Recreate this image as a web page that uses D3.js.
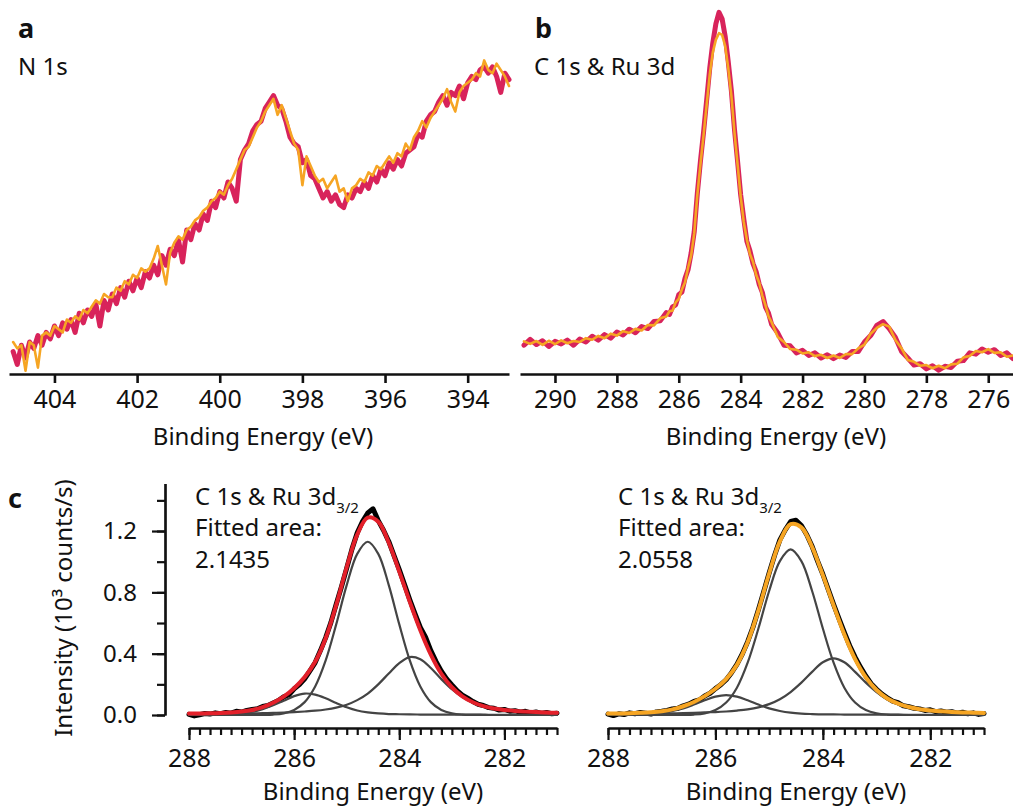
<!DOCTYPE html>
<html lang="en">
<head>
<meta charset="UTF-8">
<title>XPS spectra</title>
<script src="https://cdn.jsdelivr.net/npm/d3@7"></script>
<style>
  * { margin: 0; padding: 0; }
  body { background: #fff; }
  svg text { font-family: "Noto Sans", "Open Sans", sans-serif; font-stretch: semi-condensed; fill: #111; }
</style>
</head>
<body>
<svg id="chart" width="1013" height="808"></svg>
<script>
// ---- panel a : N 1s ----
var aE = [405.0, 404.9, 404.8, 404.7, 404.6, 404.5, 404.4, 404.3, 404.2, 404.1,
  404.0, 403.9, 403.8, 403.7, 403.6, 403.5, 403.4, 403.3, 403.2, 403.1,
  403.0, 402.9, 402.8, 402.7, 402.6, 402.5, 402.4, 402.3, 402.2, 402.1,
  402.0, 401.9, 401.8, 401.7, 401.6, 401.5, 401.4, 401.3, 401.2, 401.1,
  401.0, 400.9, 400.8, 400.7, 400.6, 400.5, 400.4, 400.3, 400.2, 400.1,
  400.0, 399.9, 399.8, 399.7, 399.6, 399.5, 399.4, 399.3, 399.2, 399.1,
  399.0, 398.9, 398.8, 398.7, 398.6, 398.5, 398.4, 398.3, 398.2, 398.1,
  398.0, 397.9, 397.8, 397.7, 397.6, 397.5, 397.4, 397.3, 397.2, 397.1,
  397.0, 396.9, 396.8, 396.7, 396.6, 396.5, 396.4, 396.3, 396.2, 396.1,
  396.0, 395.9, 395.8, 395.7, 395.6, 395.5, 395.4, 395.3, 395.2, 395.1,
  395.0, 394.9, 394.8, 394.7, 394.6, 394.5, 394.4, 394.3, 394.2, 394.1,
  394.0, 393.9, 393.8, 393.7, 393.6, 393.5, 393.4, 393.3, 393.2, 393.1,
  393.0];
var aPink = [7, 3, 9, 5, 10, 8, 12, 9, 13, 11,
  15, 12, 16, 14, 17, 13, 19, 16, 20, 18,
  22, 15, 23, 20, 25, 22, 27, 24, 29, 26,
  30, 27, 32, 30, 34, 31, 37, 34, 39, 37,
  42, 35, 45, 42, 47, 45, 50, 48, 54, 52,
  57, 55, 60, 58, 54, 67, 70, 72, 76, 78,
  79, 83, 85, 87, 84, 83, 79, 74, 72, 71,
  66, 67, 62, 61, 58, 55, 57, 54, 56, 53,
  52, 56, 55, 58, 57, 60, 58, 62, 60, 64,
  62, 66, 64, 67, 65, 69, 70, 71, 75, 74,
  79, 81, 82, 85, 87, 84, 88, 87, 90, 86,
  91, 93, 92, 95, 96, 94, 96, 93, 88, 94,
  92];
var aOrange = [10, 8, 9, 1, 10, 9, 2, 12, 13, 12,
  15, 14, 13, 17, 16, 18, 17, 20, 19, 21,
  23, 22, 25, 24, 24, 27, 26, 29, 28, 31,
  30, 33, 32, 33, 36, 40, 34, 28, 38, 41,
  43, 42, 45, 46, 48, 49, 51, 52, 54, 55,
  57, 56, 59, 61, 64, 67, 70, 71, 74, 77,
  79, 82, 84, 86, 81, 84, 80, 76, 72, 70,
  59, 68, 65, 62, 60, 61, 58, 60, 62, 57,
  58, 54, 58, 59, 61, 60, 63, 62, 65, 64,
  66, 68, 66, 69, 68, 72, 70, 74, 76, 79,
  77, 80, 82, 84, 86, 89, 85, 82, 88, 90,
  91, 92, 94, 93, 98, 95, 94, 97, 95, 93,
  90];
var aTicks = [404, 402, 400, 398, 396, 394];

// ---- panel b : C 1s & Ru 3d ----
var bE = [291.0, 290.8, 290.6, 290.4, 290.2, 290.0, 289.8, 289.6, 289.4, 289.2,
  289.0, 288.8, 288.6, 288.4, 288.2, 288.0, 287.8, 287.6, 287.4, 287.2,
  287.0, 286.8, 286.6, 286.4,
  286.3, 286.2, 286.1, 286.0, 285.9, 285.8, 285.7, 285.6, 285.5, 285.4,
  285.3, 285.2, 285.1, 285.0, 284.9, 284.8, 284.7, 284.6, 284.5, 284.4,
  284.3, 284.2, 284.1, 284.0, 283.9, 283.8, 283.7, 283.6, 283.5, 283.4,
  283.3, 283.2, 283.1, 283.0,
  282.8, 282.6, 282.4, 282.2, 282.0, 281.8, 281.6, 281.4, 281.2, 281.0,
  280.8, 280.6, 280.4, 280.2, 280.0, 279.8, 279.6, 279.4, 279.2, 279.0,
  278.8, 278.6, 278.4, 278.2, 278.0, 277.8, 277.6, 277.4, 277.2, 277.0,
  276.8, 276.6, 276.4, 276.2, 276.0, 275.8, 275.6, 275.4, 275.2];
var bPink = [9.0, 10.8, 9.2, 10.4, 8.6, 10.2, 9.4, 10.6, 9.0, 10.9,
  10.0, 11.8, 10.6, 12.3, 11.2, 13.1, 12.2, 14.0, 12.9, 14.8,
  14.2, 16.4, 16.6, 19.2,
  18.6, 21.0, 21.6, 24.8, 25.6, 29.8, 32.6, 37.8, 44.5, 56.5,
  66.5, 75.5, 85.5, 95.5, 103.5, 109.5, 113.0, 111.0, 105.5, 97.5,
  88.5, 76.5, 66.5, 56.0, 48.5, 41.5, 38.5, 34.5, 32.0, 28.0,
  25.5, 21.0, 19.0, 15.5,
  12.8, 9.0, 8.8, 6.6, 7.4, 5.8, 6.6, 5.0, 6.0, 4.8,
  5.9, 5.2, 7.0, 7.0, 10.0, 12.0, 15.2, 16.4, 14.2, 11.4,
  7.0, 5.0, 2.8, 3.2, 1.6, 2.6, 1.2, 2.4, 2.0, 4.0,
  4.2, 6.6, 6.2, 7.8, 6.8, 7.6, 5.8, 6.6, 4.8];
var bOrange = [10.2, 9.4, 10.3, 9.1, 10.4, 9.3, 10.5, 9.6, 10.3, 10.0,
  11.2, 10.7, 11.9, 11.2, 12.6, 12.0, 13.4, 12.8, 14.1, 13.6,
  15.3, 15.2, 17.4, 18.0,
  19.6, 19.8, 22.4, 23.5, 26.4, 28.6, 33.2, 37.0, 44.0, 56.0,
  65.5, 74.5, 84.0, 93.5, 100.5, 104.5, 106.5, 106.0, 102.5, 95.5,
  87.0, 75.5, 65.5, 55.5, 47.5, 42.0, 37.5, 35.0, 31.0, 28.5,
  24.5, 21.5, 18.0, 16.2,
  11.6, 10.0, 7.8, 7.6, 6.4, 6.8, 5.6, 6.0, 5.0, 5.8,
  5.0, 6.2, 6.2, 8.0, 9.2, 12.6, 14.4, 15.6, 14.8, 10.6,
  8.0, 4.4, 3.8, 2.6, 2.8, 1.8, 2.6, 1.8, 3.0, 3.2,
  5.2, 5.6, 7.2, 6.8, 7.8, 6.6, 6.8, 5.4, 5.8];
var bTicks = [290, 288, 286, 284, 282, 280, 278, 276];

// ---- panel c : fitted C 1s & Ru 3d3/2 (10^3 counts/s) ----
var cE = [288.0, 287.9, 287.8, 287.7, 287.6, 287.5, 287.4, 287.3, 287.2, 287.1,
  287.0, 286.9, 286.8, 286.7, 286.6, 286.5, 286.4, 286.3, 286.2, 286.1,
  286.0, 285.9, 285.8, 285.7, 285.6, 285.5, 285.4, 285.3, 285.2, 285.1,
  285.0, 284.9, 284.8, 284.7, 284.6, 284.5, 284.4, 284.3, 284.2, 284.1,
  284.0, 283.9, 283.8, 283.7, 283.6, 283.5, 283.4, 283.3, 283.2, 283.1,
  283.0, 282.9, 282.8, 282.7, 282.6, 282.5, 282.4, 282.3, 282.2, 282.1,
  282.0, 281.9, 281.8, 281.7, 281.6, 281.5, 281.4, 281.3, 281.2, 281.1,
  281.0];
var cLeftData = [0.004, -0.006, 0.002, 0.010, 0.006, 0.014, 0.009, 0.016, 0.012, 0.024,
  0.019, 0.030, 0.036, 0.041, 0.055, 0.062, 0.078, 0.094, 0.118, 0.132,
  0.171, 0.198, 0.236, 0.288, 0.342, 0.420, 0.505, 0.604, 0.722, 0.836,
  0.958, 1.082, 1.188, 1.262, 1.318, 1.345, 1.268, 1.205, 1.132, 1.040,
  0.948, 0.850, 0.752, 0.660, 0.572, 0.508, 0.420, 0.348, 0.286, 0.236,
  0.196, 0.158, 0.130, 0.110, 0.088, 0.070, 0.062, 0.048, 0.044, 0.032,
  0.036, 0.025, 0.028, 0.018, 0.024, 0.014, 0.020, 0.010, 0.016, 0.008,
  0.012];
var cRightData = [0.006, -0.004, 0.008, 0.003, 0.014, 0.008, 0.016, 0.012, 0.006, 0.020,
  0.024, 0.030, 0.040, 0.044, 0.060, 0.070, 0.088, 0.098, 0.124, 0.142,
  0.172, 0.198, 0.230, 0.276, 0.330, 0.398, 0.478, 0.574, 0.686, 0.806,
  0.926, 1.040, 1.142, 1.208, 1.262, 1.270, 1.236, 1.176, 1.100, 1.006,
  0.918, 0.820, 0.722, 0.628, 0.538, 0.452, 0.378, 0.312, 0.254, 0.204,
  0.168, 0.136, 0.112, 0.090, 0.080, 0.060, 0.054, 0.044, 0.040, 0.030,
  0.034, 0.022, 0.026, 0.018, 0.022, 0.012, 0.018, 0.008, 0.014, 0.004,
  0.010];

// fit components sampled every 0.2 eV
var cFitE = [288.0, 287.8, 287.6, 287.4, 287.2, 287.0, 286.8, 286.6, 286.4, 286.2,
  286.0, 285.8, 285.6, 285.4, 285.2, 285.0, 284.8, 284.6, 284.4, 284.2,
  284.0, 283.8, 283.6, 283.4, 283.2, 283.0, 282.8, 282.6, 282.4, 282.2,
  282.0, 281.8, 281.6, 281.4, 281.2, 281.0];
var cLeftMain = [0, 0, 0, 0, 0, 0, 0, 0.001, 0.003, 0.011,
  0.033, 0.084, 0.186, 0.356, 0.591, 0.847, 1.051, 1.130, 1.051, 0.847,
  0.591, 0.356, 0.186, 0.084, 0.033, 0.011, 0.003, 0.001, 0, 0,
  0, 0, 0, 0, 0, 0];
var cLeftBroad = [0.006, 0.006, 0.007, 0.008, 0.009, 0.010, 0.011, 0.012, 0.014, 0.016,
  0.019, 0.023, 0.028, 0.036, 0.048, 0.067, 0.097, 0.140, 0.200, 0.271,
  0.339, 0.378, 0.364, 0.307, 0.234, 0.168, 0.117, 0.080, 0.056, 0.041,
  0.032, 0.025, 0.021, 0.018, 0.015, 0.013];
var cLeftSmall = [0.003, 0.003, 0.004, 0.005, 0.008, 0.013, 0.022, 0.038, 0.063, 0.093,
  0.123, 0.140, 0.133, 0.109, 0.078, 0.050, 0.029, 0.017, 0.010, 0.006,
  0.005, 0.004, 0.003, 0.003, 0.002, 0.002, 0.002, 0.002, 0.002, 0.001,
  0.001, 0.001, 0.001, 0.001, 0.001, 0.001];
var cLeftFit = [0.009, 0.010, 0.011, 0.013, 0.017, 0.023, 0.033, 0.051, 0.080, 0.120,
  0.175, 0.247, 0.347, 0.501, 0.717, 0.964, 1.177, 1.287, 1.261, 1.124,
  0.935, 0.738, 0.553, 0.394, 0.269, 0.181, 0.122, 0.083, 0.058, 0.042,
  0.033, 0.026, 0.022, 0.019, 0.016, 0.014];
var cRightMain = [0, 0, 0, 0, 0, 0, 0, 0.001, 0.003, 0.011,
  0.032, 0.081, 0.178, 0.341, 0.564, 0.809, 1.004, 1.080, 1.004, 0.809,
  0.564, 0.341, 0.178, 0.081, 0.032, 0.011, 0.003, 0.001, 0, 0,
  0, 0, 0, 0, 0, 0];
var cRightBroad = [0.006, 0.006, 0.007, 0.008, 0.009, 0.010, 0.011, 0.012, 0.014, 0.017,
  0.019, 0.023, 0.029, 0.037, 0.050, 0.071, 0.103, 0.150, 0.211, 0.281,
  0.344, 0.370, 0.344, 0.281, 0.211, 0.150, 0.103, 0.071, 0.050, 0.037,
  0.029, 0.023, 0.019, 0.017, 0.014, 0.012];
var cRightSmall = [0.003, 0.004, 0.004, 0.006, 0.009, 0.015, 0.026, 0.043, 0.068, 0.096,
  0.120, 0.130, 0.120, 0.096, 0.068, 0.043, 0.026, 0.015, 0.009, 0.006,
  0.004, 0.004, 0.003, 0.002, 0.002, 0.002, 0.002, 0.002, 0.001, 0.001,
  0.001, 0.001, 0.001, 0.001, 0.001, 0.001];
var cRightFit = [0.009, 0.010, 0.011, 0.014, 0.018, 0.025, 0.037, 0.057, 0.085, 0.123,
  0.171, 0.234, 0.327, 0.474, 0.682, 0.923, 1.133, 1.245, 1.224, 1.096,
  0.912, 0.715, 0.525, 0.364, 0.245, 0.163, 0.108, 0.074, 0.052, 0.038,
  0.030, 0.024, 0.020, 0.017, 0.015, 0.013];
var cXTicks = [288, 286, 284, 282];
var cYTicks = [0, 0.4, 0.8, 1.2];
var cAreas = ['2.1435', '2.0558'];

var pink = '#d8235b', orange = '#f6a523', red = '#e3202a', grey = '#444';

var svg = d3.select('#chart');

function pairs(xs, ys) {
  return xs.map(function (x, i) { return [x, ys[i]]; });
}

function styleAxis(g, fs, sw) {
  g.attr('font-size', fs);
  g.select('.domain').attr('stroke', '#111').attr('stroke-width', sw);
  g.selectAll('.tick line').attr('stroke', '#111').attr('stroke-width', sw);
  g.selectAll('.tick text').attr('fill', '#111');
}

function drawLine(g, data, x, y, color, width, curve) {
  var line = d3.line()
    .x(function (d) { return x(d[0]); })
    .y(function (d) { return y(d[1]); })
    .curve(curve || d3.curveLinear);
  g.append('path')
    .datum(data)
    .attr('d', line)
    .attr('fill', 'none')
    .attr('stroke', color)
    .attr('stroke-width', width)
    .attr('stroke-linejoin', 'round')
    .attr('stroke-linecap', 'round');
}

// ===== panel a =====
var xa = d3.scaleLinear().domain([405.1, 393.0]).range([9, 509]);
var ya = d3.scaleLinear().domain([0, 100]).range([374, 54]);
var ga = svg.append('g');
drawLine(ga, pairs(aE, aPink), xa, ya, pink, 5);
drawLine(ga, pairs(aE, aOrange), xa, ya, orange, 2.6);
ga.append('g').attr('transform', 'translate(0,374)')
  .call(d3.axisBottom(xa).tickValues(aTicks).tickSize(9).tickPadding(7).tickSizeOuter(0).tickFormat(d3.format('d')))
  .call(styleAxis, 25, 2.6);
ga.append('text').attr('x', 263).attr('y', 445).attr('text-anchor', 'middle')
  .attr('font-size', 24).text('Binding Energy (eV)');
ga.append('text').attr('x', 18).attr('y', 38).attr('font-size', 27).attr('font-weight', 700).text('a');
ga.append('text').attr('x', 18).attr('y', 75).attr('font-size', 24).text('N 1s');

// ===== panel b =====
var xb = d3.scaleLinear().domain([291.13, 275.2]).range([520, 1013]);
var yb = d3.scaleLinear().domain([0, 100]).range([374, 54]);
var gb = svg.append('g');
drawLine(gb, pairs(bE, bPink), xb, yb, pink, 5);
drawLine(gb, pairs(bE, bOrange), xb, yb, orange, 2.6);
gb.append('g').attr('transform', 'translate(0,374)')
  .call(d3.axisBottom(xb).tickValues(bTicks).tickSize(9).tickPadding(7).tickSizeOuter(0).tickFormat(d3.format('d')))
  .call(styleAxis, 25, 2.6);
gb.append('text').attr('x', 776).attr('y', 445).attr('text-anchor', 'middle')
  .attr('font-size', 24).text('Binding Energy (eV)');
gb.append('text').attr('x', 535).attr('y', 38).attr('font-size', 27).attr('font-weight', 700).text('b');
gb.append('text').attr('x', 534).attr('y', 75).attr('font-size', 24).text('C 1s & Ru 3d');

// ===== panel c =====
var yc = d3.scaleLinear().domain([0, 1.51]).range([715, 483.5]);
var cPanels = [
  { x0: 189, x1: 557, data: cLeftData, comps: [cLeftMain, cLeftBroad, cLeftSmall], fit: cLeftFit, color: red, tx: 195, area: cAreas[0] },
  { x0: 608, x1: 984, data: cRightData, comps: [cRightMain, cRightBroad, cRightSmall], fit: cRightFit, color: orange, tx: 618, area: cAreas[1] }
];

cPanels.forEach(function (p) {
  var xc = d3.scaleLinear().domain([288, 281]).range([p.x0, p.x1]);
  var g = svg.append('g');
  drawLine(g, pairs(cE, p.data), xc, yc, '#000', 5);
  p.comps.forEach(function (c) {
    drawLine(g, pairs(cFitE, c), xc, yc, grey, 2.2, d3.curveCatmullRom);
  });
  drawLine(g, pairs(cFitE, p.fit), xc, yc, p.color, 4, d3.curveCatmullRom);

  // x axis: minor ticks every 0.2 eV, labelled ticks every 2 eV
  g.append('g').attr('transform', 'translate(0,728)')
    .call(d3.axisBottom(xc).tickValues(xc.ticks(35)).tickSize(7).tickFormat('').tickSizeOuter(0))
    .call(styleAxis, 24, 2.2);
  g.append('g').attr('transform', 'translate(0,728)')
    .call(d3.axisBottom(xc).tickValues(cXTicks).tickSize(12).tickPadding(9).tickSizeOuter(0).tickFormat(d3.format('d')))
    .call(styleAxis, 25, 2.2);
  g.append('text').attr('x', (p.x0 + p.x1) / 2).attr('y', 800).attr('text-anchor', 'middle')
    .attr('font-size', 24).text('Binding Energy (eV)');

  var t1 = g.append('text').attr('x', p.tx).attr('y', 505).attr('font-size', 24);
  t1.append('tspan').text('C 1s & Ru 3d');
  t1.append('tspan').attr('font-size', 15).attr('dy', 8).text('3/2');
  g.append('text').attr('x', p.tx).attr('y', 536).attr('font-size', 24).text('Fitted area:');
  g.append('text').attr('x', p.tx).attr('y', 568).attr('font-size', 24).text(p.area);
});

// y axis only on the left fit
var gy = svg.append('g').attr('transform', 'translate(165,0)');
gy.append('g')
  .call(d3.axisLeft(yc).tickValues(yc.ticks(8)).tickSize(8).tickFormat('').tickSizeOuter(0))
  .call(styleAxis, 24, 2.2);
gy.append('g')
  .call(d3.axisLeft(yc).tickValues(cYTicks).tickSize(13).tickPadding(15).tickFormat(d3.format('.1f')).tickSizeOuter(0))
  .call(styleAxis, 24, 2.2);
svg.append('text').attr('transform', 'translate(72,608) rotate(-90)').attr('text-anchor', 'middle')
  .attr('font-size', 24).text('Intensity (10³ counts/s)');
svg.append('text').attr('x', 8).attr('y', 508).attr('font-size', 27).attr('font-weight', 700).text('c');
</script>
</body>
</html>
